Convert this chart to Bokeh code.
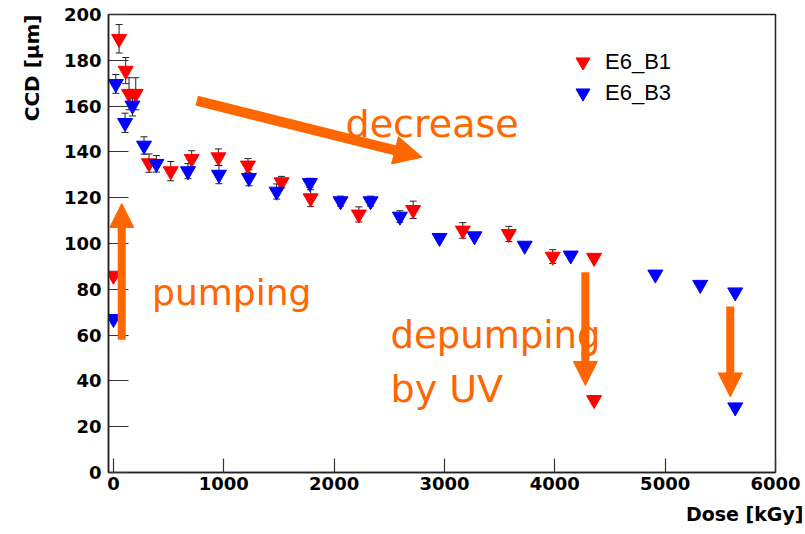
import numpy as np
from bokeh.plotting import figure
from bokeh.models import (ColumnDataSource, Whisker, TeeHead, Legend, LegendItem,
                          Label, Arrow, NormalHead, Range1d, FixedTicker, Title)
from bokeh.embed import file_html
from bokeh.resources import INLINE

# ---------------- data ----------------
dose_b1 = [0, 51, 111, 141, 202, 322, 519, 709, 951, 1219, 1524, 1787, 2224, 2716,
           3166, 3583, 3981, 4356, 4356]
ccd_b1 = [86.0, 189.4, 175.5, 165.4, 165.4, 135.1, 131.6, 137.0, 137.7, 134.1, 126.8,
          119.8, 112.7, 114.7, 105.7, 104.2, 94.3, 93.8, 31.7]
err_b1 = [0, 6.2, 5.7, 7.0, 7.0, 4.0, 4.2, 3.5, 3.6, 3.0, 2.5, 3.7, 3.3, 3.8,
          3.4, 3.3, 3.0, 0, 0]

dose_b3 = [0, 21, 105, 172, 277, 389, 675, 956, 1228, 1479, 1780, 2058, 2330, 2596,
           2955, 3272, 3727, 4144, 4911, 5318, 5635, 5635]
ccd_b3 = [67.1, 169.7, 152.7, 160.3, 142.8, 134.8, 131.6, 130.1, 128.7, 122.7, 126.5,
          118.5, 118.5, 111.8, 102.5, 103.2, 99.1, 94.8, 86.5, 82.0, 78.7, 28.5]
err_b3 = [0, 4.1, 4.2, 4.6, 3.8, 3.6, 3.3, 4.0, 3.5, 3.3, 2.0, 2.2, 2.2, 2.5,
          0, 0, 0, 0, 0, 0, 0, 0]

series_labels = ["E6_B1", "E6_B3"]
x_ticks = [0, 1000, 2000, 3000, 4000, 5000, 6000]
y_ticks = [0, 20, 40, 60, 80, 100, 120, 140, 160, 180, 200]
x_title = "Dose [kGy]"
y_title = "CCD [µm]"

RED = "#ff0000"
BLUE = "#0000ff"
ORANGE = "#ff6600"
TICK_FONT = "DejaVu Sans"

p = figure(width=805, height=534, output_backend="svg", toolbar_location=None,
           x_range=Range1d(-45, 6000), y_range=Range1d(0, 200),
           min_border_left=108, min_border_right=30, min_border_top=14,
           min_border_bottom=62)
p.grid.visible = False
p.outline_line_color = "#222222"
p.outline_line_width = 1.5
p.background_fill_color = "white"
p.border_fill_color = "white"

for ax, ticks, tl in ((p.xaxis, x_ticks, 14), (p.yaxis, y_ticks, 20)):
    ax.ticker = FixedTicker(ticks=ticks)
    ax.major_tick_in = tl
    ax.major_tick_out = 0
    ax.minor_tick_line_color = None
    ax.axis_line_color = "#222222"
    ax.axis_line_width = 1.5
    ax.major_tick_line_color = "#333333"
    ax.major_tick_line_width = 1.2
    ax.major_label_text_font = TICK_FONT
    ax.major_label_text_font_style = "bold"
    ax.major_label_text_font_size = "18px"
    ax.major_label_text_color = "black"
p.yaxis.major_label_standoff = 7
p.xaxis.major_label_standoff = 4


def whiskers(xs, ys, es):
    idx = [i for i, e in enumerate(es) if e > 0]
    src = ColumnDataSource(dict(
        base=[xs[i] for i in idx],
        lower=[ys[i] - es[i] for i in idx],
        upper=[ys[i] + es[i] for i in idx]))
    w = Whisker(source=src, base="base", lower="lower", upper="upper",
                dimension="height", line_color="#222222", line_width=1,
                upper_head=TeeHead(size=7, line_color="#222222", line_width=1),
                lower_head=TeeHead(size=7, line_color="#222222", line_width=1),
                level="underlay")
    p.add_layout(w)


whiskers(dose_b1, ccd_b1, err_b1)
whiskers(dose_b3, ccd_b3, err_b3)

r1 = p.scatter(dose_b1, ccd_b1, marker="inverted_triangle", size=15,
               fill_color=RED, line_color=RED)
r3 = p.scatter(dose_b3, ccd_b3, marker="inverted_triangle", size=15,
               fill_color=BLUE, line_color=BLUE)

# one legend per row so that row spacing can be tighter than the glyph box
for label, rend, vy in ((series_labels[0], r1, 393), (series_labels[1], r3, 362)):
    p.add_layout(Legend(items=[LegendItem(label=label, renderers=[rend])],
                        location=(457, vy), glyph_width=35, glyph_height=35,
                        padding=0, margin=0, label_standoff=5,
                        border_line_color=None, background_fill_alpha=0,
                        label_text_font="Liberation Sans",
                        label_text_font_size="22px", label_text_color="black"))

# axis titles as side-panel titles (aligned to the ends of the axes)
p.add_layout(Title(text=x_title, align="right", offset=-28, standoff=17,
                   text_font=TICK_FONT, text_font_style="bold",
                   text_font_size="19px", text_color="black"), "below")
p.add_layout(Title(text=y_title, align="right", offset=0, standoff=34,
                   text_font=TICK_FONT, text_font_style="bold",
                   text_font_size="20px", text_color="black"), "left")

# orange annotations
def arrow(x0, y0, x1, y1, lw, hs):
    p.add_layout(Arrow(x_start=x0, y_start=y0, x_end=x1, y_end=y1,
                       line_color=ORANGE, line_width=lw,
                       end=NormalHead(size=hs, fill_color=ORANGE,
                                      line_color=ORANGE, line_width=1)))

arrow(754, 162.4, 2798, 137.7, 10, 28)
arrow(75, 58, 75, 117.5, 8, 24)
arrow(4277, 87.5, 4277, 38, 8, 24)
arrow(5590, 72.5, 5590, 33, 8, 24)

for txt, x, y, fs in (("decrease", 2104, 152.0, 38), ("pumping", 350, 78.5, 36),
                      ("depumping", 2511, 60.0, 37), ("by UV", 2511, 36.5, 38)):
    p.add_layout(Label(x=x, y=y, text=txt, text_align="left",
                       text_baseline="alphabetic", text_font="DejaVu Sans",
                       text_font_size=f"{fs}px", text_color=ORANGE))

open("out.html", "w").write(file_html(p, INLINE))
